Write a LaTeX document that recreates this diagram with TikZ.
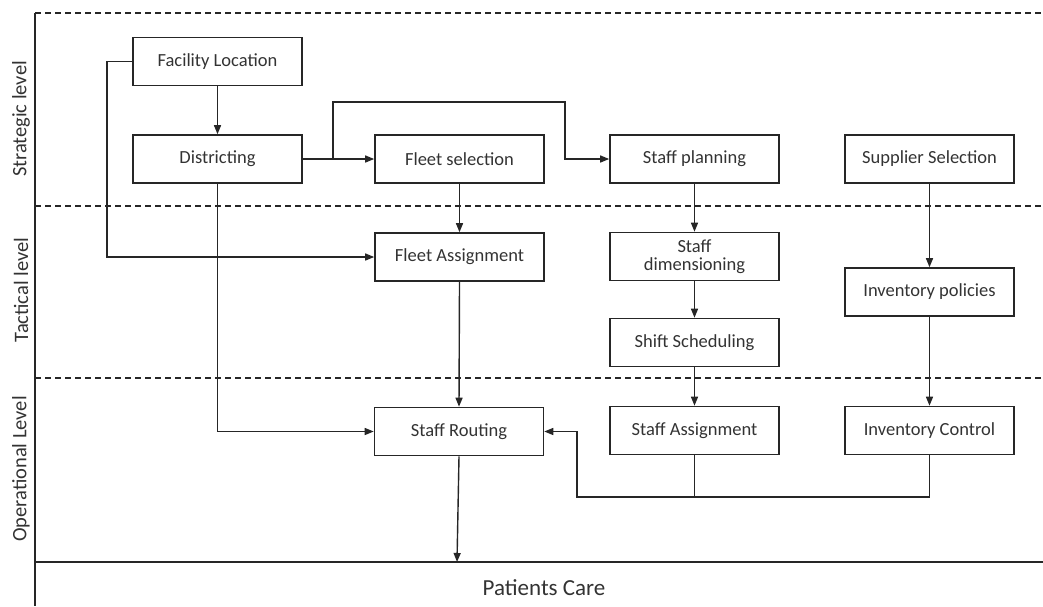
\documentclass[tikz,border=0pt]{standalone}
\usepackage{fontspec}
\setmainfont{Carlito}
\usetikzlibrary{arrows.meta}
\begin{document}
\begin{tikzpicture}[x=1pt,y=-1pt,
  box/.style={draw=black!85,line width=1.6pt,minimum width=169pt,minimum height=48pt,inner sep=1pt,align=center,font=\fontsize{18.5}{19}\selectfont,text=black!80},
  conn/.style={draw=black!85,line width=1.4pt},
  arr/.style={conn,-{Triangle[length=9pt,width=7pt]}},
  sep/.style={draw=black!85,line width=1.3pt,dash pattern=on 6pt off 4pt},
  lvl/.style={rotate=90,font=\fontsize{20.5}{22}\selectfont,text=black!80}]
\useasboundingbox (0,0) rectangle (1043,606);
% frame
\draw[conn,line width=1.6pt] (35,13) -- (35,606);
\draw[sep] (35,13) -- (1043,13);
\draw[sep] (35,206) -- (1043,206);
\draw[sep] (35,378) -- (1043,378);
\draw[conn,line width=1.6pt] (35,562) -- (1043,562);
% level labels
\node[lvl] (lstrat) at (21,119) {Strategic level};
\node[lvl] (ltact) at (21,290) {Tactical level};
\node[lvl] (loper) at (21,469) {Operational Level};
% boxes
\node[box] (fac) at (217.5,61.5) {Facility Location};
\node[box] (dist) at (217.5,159) {Districting};
\node[box] (fsel) at (459.5,159) {Fleet selection};
\node[box] (splan) at (694.5,159) {Staff planning};
\node[box] (supp) at (929.5,159) {Supplier Selection};
\node[box] (fass) at (459.5,257) {Fleet Assignment};
\node[box] (sdim) at (694.5,256.5) {Staff\\[-1pt]dimensioning};
\node[box] (shift) at (694.5,342.5) {Shift Scheduling};
\node[box] (invp) at (929.5,292) {Inventory policies};
\node[box] (srout) at (459,431.5) {Staff Routing};
\node[box] (sass) at (694.5,430.5) {Staff Assignment};
\node[box] (invc) at (929.5,430.5) {Inventory Control};
\node[font=\fontsize{23}{25}\selectfont,text=black!80] (pcare) at (544,588) {Patients Care};
% coordinates
\coordinate (fl) at (107,61.5);
\coordinate (fl2) at (107,257);
\coordinate (br) at (333,159);
\coordinate (bt1) at (333,102);
\coordinate (bt2) at (565,102);
\coordinate (bt3) at (565,159);
\coordinate (dd) at (217.5,431.5);
\coordinate (j1) at (694.5,497);
\coordinate (j2) at (929.5,497);
\coordinate (j3) at (577,497);
\coordinate (j4) at (577,431.5);
\coordinate (pc) at (457,562);
% connectors
\draw[arr] (fac) -- (dist);
\draw[arr] (fac.west) -- (fl) -- (fl2) -- (fass.west);
\draw[arr] (dist.east) -- (fsel.west);
\draw[arr] (br) -- (bt1) -- (bt2) -- (bt3) -- (splan.west);
\draw[arr] (dist.south) -- (dd) -- (srout.west);
\draw[arr] (fsel) -- (fass);
\draw[arr] (fass.south) -- (srout.north);
\draw[arr] (splan) -- (sdim);
\draw[arr] (sdim) -- (shift);
\draw[arr] (shift) -- (sass);
\draw[arr] (supp) -- (invp);
\draw[arr] (invp) -- (invc);
\draw[conn] (sass.south) -- (j1);
\draw[arr] (invc.south) -- (j2) -- (j3) -- (j4) -- (srout.east);
\draw[arr] (srout.south) -- (pc);
\end{tikzpicture}
\end{document}
